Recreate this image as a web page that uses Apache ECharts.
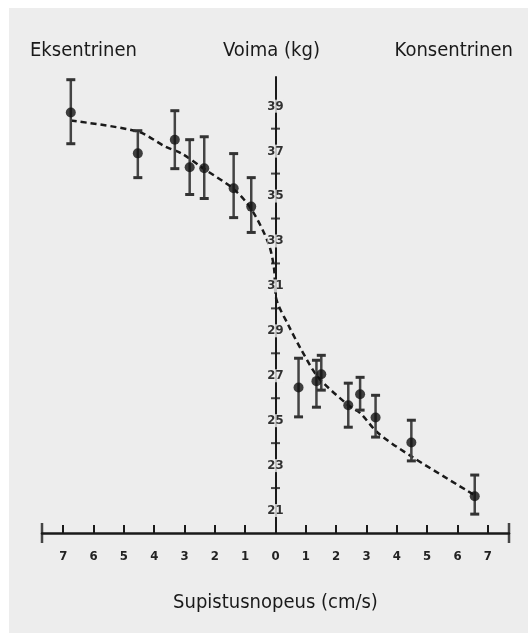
<!DOCTYPE html>
<html>
<head>
<meta charset="utf-8">
<script src="https://cdn.jsdelivr.net/npm/echarts@6/dist/echarts.min.js"></script>
<style>
html,body{margin:0;padding:0;background:#fff;}
#chart{width:528px;height:635px;}
</style>
</head>
<body>
<div id="chart"></div>
<script>
// Measured points (speed in cm/s, negative = eccentric), force in kg
const speed   = [-6.75, -4.54, -3.32, -2.83, -2.35, -1.38, -0.80, 0.76, 1.35, 1.51, 2.40, 2.79, 3.30, 4.48, 6.57];
const force   = [38.72, 36.90, 37.51, 36.28, 36.24, 35.35, 34.53, 26.48, 26.76, 27.07, 25.69, 26.18, 25.14, 24.03, 21.64];
const errLow  = [37.33, 35.82, 36.22, 35.07, 34.89, 34.04, 33.38, 25.17, 25.60, 26.36, 24.71, 25.47, 24.27, 23.21, 20.84];
const errHigh = [40.18, 37.91, 38.80, 37.51, 37.64, 36.89, 35.82, 27.78, 27.69, 27.91, 26.67, 26.93, 26.13, 25.02, 22.58];

// Fitted dashed curve
const curveX = [-6.75, -4.54, -3.63, -3.09, -2.37, -1.38, -0.80, -0.23, -0.05, 0.03, 0.43, 0.86, 1.41, 2.40, 2.80, 3.39, 4.47, 6.62];
const curveY = [38.36, 37.87, 37.20, 36.89, 36.22, 35.31, 34.42, 32.89, 31.80, 30.40, 29.24, 28.13, 26.93, 25.69, 25.33, 24.44, 23.42, 21.64];

// Axis ticks / labels
const xTicks = [-7, -6, -5, -4, -3, -2, -1, 0, 1, 2, 3, 4, 5, 6, 7];
const xEnds = [-7.7, 7.7];
const yLabelValues = [21, 23, 25, 27, 29, 31, 33, 35, 37, 39];
const yCrossTicks = [22, 24, 26, 28, 30, 32, 34, 36, 38];

const titleLeft = 'Eksentrinen';
const titleMid = 'Voima (kg)';
const titleRight = 'Konsentrinen';
const xTitle = 'Supistusnopeus (cm/s)';

const FONT = '"Liberation Sans Narrow", "DejaVu Sans Condensed", "Roboto", sans-serif';

const chart = echarts.init(document.getElementById('chart'), null, {renderer: 'canvas'});

const option = {
  animation: false,
  backgroundColor: '#ffffff',
  graphic: [
    {type: 'rect', left: 9, top: 8, shape: {width: 519, height: 625}, style: {fill: '#ededed'}, z: -10, silent: true},
    {type: 'text', left: 30, top: 41, style: {text: titleLeft, font: '20px ' + FONT, fill: '#1a1a1a'}},
    {type: 'text', left: 223, top: 41, style: {text: titleMid, font: '20px ' + FONT, fill: '#1a1a1a'}},
    {type: 'text', right: 15, top: 41, style: {text: titleRight, font: '20px ' + FONT, fill: '#1a1a1a'}}
  ],
  grid: {left: 42, right: 19, top: 77, bottom: 102, containLabel: false},
  xAxis: {
    type: 'value', min: -7.7, max: 7.7,
    name: xTitle, nameLocation: 'middle', nameGap: 60,
    nameTextStyle: {fontFamily: FONT, fontSize: 20, color: '#1a1a1a'},
    splitLine: {show: false},
    axisLine: {onZero: false, lineStyle: {color: '#1a1a1a', width: 2.5}},
    axisTick: {show: true, inside: true, length: 8, customValues: xTicks, lineStyle: {color: '#1a1a1a', width: 2}},
    axisLabel: {customValues: xTicks, margin: 17, formatter: v => String(Math.abs(v)),
      fontFamily: FONT, fontSize: 13, fontWeight: 'bold', color: '#222'}
  },
  yAxis: {
    type: 'value', min: 20, max: 40.3, interval: 1,
    splitLine: {show: false},
    axisLine: {onZero: true, lineStyle: {color: '#1a1a1a', width: 2}},
    axisTick: {show: false},
    axisLabel: {show: false}
  },
  series: [
    {
      type: 'scatter', data: yCrossTicks.map(v => [0, v]), symbol: 'rect', symbolSize: [9, 2],
      itemStyle: {color: '#1a1a1a'}, silent: true, z: 3, clip: false
    },
    {
      type: 'scatter', data: yLabelValues.map(v => [0, v]), symbol: 'rect', symbolSize: 1,
      itemStyle: {color: '#1a1a1a'}, silent: true, z: 6, clip: false,
      label: {show: true, position: 'inside', formatter: p => String(p.value[1]),
        fontFamily: FONT, fontSize: 13, fontWeight: 'bold', color: '#000',
        textBorderWidth: 0, backgroundColor: '#ededed', padding: [0, 0]}
    },
    {
      type: 'scatter', data: xEnds.map(v => [v, 20]), symbol: 'rect', symbolSize: [2.5, 20],
      itemStyle: {color: '#1a1a1a'}, silent: true, z: 3, clip: false
    },
    {
      type: 'line', data: curveX.map((x, i) => [x, curveY[i]]), smooth: 0.3, showSymbol: false,
      lineStyle: {color: '#1a1a1a', width: 2.5, type: [6, 4]}, z: 2, silent: true
    },
    {
      type: 'custom', z: 4, silent: true,
      data: speed.map((x, i) => [x, errLow[i], errHigh[i]]),
      renderItem: function (params, api) {
        const x = api.value(0);
        const lo = api.coord([x, api.value(1)]);
        const hi = api.coord([x, api.value(2)]);
        const half = 4.5;
        const st = {stroke: '#444', lineWidth: 2.5};
        const cap = {stroke: '#333', lineWidth: 3};
        return {type: 'group', children: [
          {type: 'line', shape: {x1: lo[0], y1: lo[1], x2: hi[0], y2: hi[1]}, style: st},
          {type: 'line', shape: {x1: lo[0] - half, y1: lo[1], x2: lo[0] + half, y2: lo[1]}, style: cap},
          {type: 'line', shape: {x1: hi[0] - half, y1: hi[1], x2: hi[0] + half, y2: hi[1]}, style: cap}
        ]};
      }
    },
    {
      type: 'scatter', data: speed.map((x, i) => [x, force[i]]), symbol: 'circle', symbolSize: 10,
      itemStyle: {color: '#111'}, z: 5, silent: true
    }
  ]
};
chart.setOption(option);
</script>
</body>
</html>
